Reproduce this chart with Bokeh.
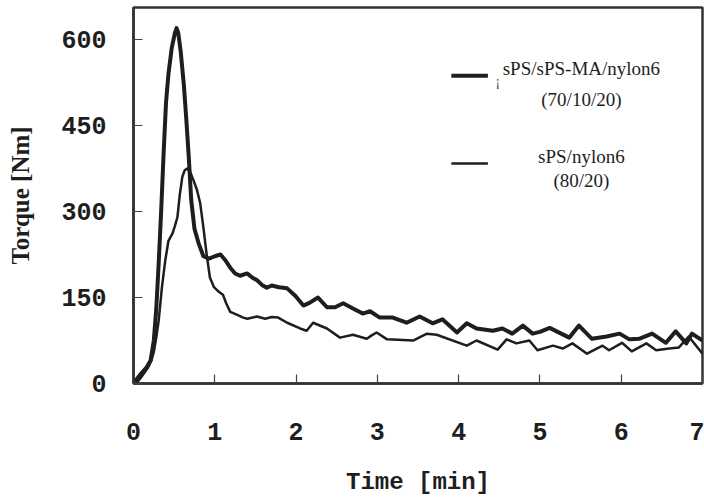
from bokeh.plotting import figure
from bokeh.models import Range1d, FixedTicker, Label
from bokeh.embed import file_html
from bokeh.resources import INLINE

# ---- data ----
time_ma = [0.0, 0.08, 0.16, 0.21, 0.25, 0.28, 0.31, 0.34, 0.37, 0.40, 0.43, 0.47, 0.51, 0.53,
           0.55, 0.58, 0.62, 0.65, 0.68, 0.71, 0.75, 0.80, 0.86, 0.93, 1.00, 1.07, 1.13, 1.19,
           1.25, 1.31, 1.40, 1.46, 1.52, 1.58, 1.64, 1.70, 1.79, 1.89, 1.99, 2.09, 2.17, 2.27,
           2.38, 2.48, 2.58, 2.70, 2.82, 2.91, 3.03, 3.07, 3.19, 3.36, 3.52, 3.68, 3.80, 3.98,
           4.10, 4.22, 4.42, 4.54, 4.66, 4.79, 4.91, 5.00, 5.12, 5.36, 5.48, 5.64, 5.82, 5.98,
           6.10, 6.22, 6.38, 6.55, 6.67, 6.80, 6.87, 7.00]
torque_ma = [0, 15, 28, 40, 75, 130, 210, 300, 400, 490, 540, 585, 612, 620,
             612, 580, 520, 460, 395, 320, 270, 245, 222, 218, 222, 225, 215, 202,
             192, 188, 192, 185, 180, 172, 167, 171, 168, 166, 153, 136, 141, 150,
             133, 133, 140, 131, 122, 126, 115, 115, 115, 106, 117, 105, 112, 89,
             105, 96, 92, 96, 87, 101, 87, 90, 97, 80, 101, 78, 82, 87,
             77, 78, 87, 71, 91, 70, 87, 75]

time_plain = [0.0, 0.05, 0.09, 0.14, 0.18, 0.22, 0.25, 0.28, 0.31, 0.35, 0.39, 0.43, 0.48, 0.51,
              0.54, 0.57, 0.60, 0.63, 0.66, 0.70, 0.74, 0.78, 0.82, 0.86, 0.90, 0.94, 0.99, 1.05,
              1.10, 1.14, 1.19, 1.27, 1.35, 1.40, 1.52, 1.62, 1.70, 1.78, 1.89, 2.05, 2.13, 2.21,
              2.38, 2.54, 2.70, 2.87, 2.93, 2.99, 3.12, 3.44, 3.61, 3.73, 4.10, 4.22, 4.48, 4.59,
              4.71, 4.87, 4.97, 5.16, 5.28, 5.40, 5.58, 5.77, 5.85, 6.01, 6.13, 6.31, 6.43, 6.59,
              6.71, 6.83, 7.00]
torque_plain = [0, 3, 10, 20, 28, 40, 55, 80, 110, 168, 214, 249, 262, 275,
                290, 330, 360, 372, 375, 368, 354, 338, 315, 272, 225, 185, 168, 160,
                155, 140, 125, 120, 115, 113, 117, 113, 116, 115, 106, 96, 92, 106,
                96, 80, 85, 78, 84, 89, 77, 75, 87, 85, 66, 75, 59, 77,
                70, 75, 58, 66, 61, 70, 52, 66, 58, 71, 56, 70, 58, 61,
                63, 82, 52]

x_ticks = [0, 1, 2, 3, 4, 5, 6, 7]
y_ticks = [0, 150, 300, 450, 600]

label_ma = ["sPS/sPS-MA/nylon6", "(70/10/20)"]
label_plain = ["sPS/nylon6", "(80/20)"]

INK = "#1e1e1e"

p = figure(width=704, height=500, x_range=Range1d(0, 7), y_range=Range1d(0, 656),
           output_backend="svg", toolbar_location=None,
           min_border_left=133, min_border_right=2, min_border_top=7, min_border_bottom=117)
p.background_fill_color = "white"
p.border_fill_color = "white"
p.outline_line_color = "#333333"
p.outline_line_width = 2.5
p.xgrid.visible = False
p.ygrid.visible = False

for ax in (p.xaxis[0], p.yaxis[0]):
    ax.axis_line_color = "#333333"
    ax.axis_line_width = 2.5
    ax.major_tick_in = 9
    ax.major_tick_out = 0
    ax.minor_tick_line_color = None
    ax.major_tick_line_color = "#444444"
    ax.major_tick_line_width = 1.2
    ax.major_label_text_font = "Liberation Mono"
    ax.major_label_text_font_style = "bold"
    ax.major_label_text_font_size = "25px"
    ax.major_label_text_color = INK

p.xaxis.ticker = FixedTicker(ticks=x_ticks)
p.yaxis.ticker = FixedTicker(ticks=y_ticks)
p.xaxis.major_label_standoff = 39
p.yaxis.major_label_standoff = 27

p.xaxis.axis_label = "Time [min]"
p.xaxis.axis_label_text_font = "Liberation Mono"
p.xaxis.axis_label_text_font_style = "bold"
p.xaxis.axis_label_text_font_size = "24px"
p.xaxis.axis_label_text_color = INK
p.xaxis.axis_label_standoff = 26

p.yaxis.axis_label = "Torque [Nm]"
p.yaxis.axis_label_text_font = "Liberation Serif"
p.yaxis.axis_label_text_font_style = "bold"
p.yaxis.axis_label_text_font_size = "25px"
p.yaxis.axis_label_text_color = INK
p.yaxis.axis_label_standoff = 24

p.line(time_ma, torque_ma, line_color=INK, line_width=4, line_join="round")
p.line(time_plain, torque_plain, line_color=INK, line_width=2.5, line_join="round")

# legend keys
p.line([3.91, 4.36], [537, 537], line_color=INK, line_width=4)
p.line([3.91, 4.36], [384, 384], line_color=INK, line_width=2.5)

for txt, yy in ((label_ma[0], 549), (label_ma[1], 495), (label_plain[0], 396), (label_plain[1], 354)):
    p.add_layout(Label(x=5.51, y=yy, text=txt, text_align="center", text_baseline="middle",
                       text_font="Liberation Serif", text_font_size="19px", text_color=INK))
p.add_layout(Label(x=4.48, y=528, text="¡", text_align="center", text_baseline="middle",
                   text_font="Liberation Serif", text_font_size="15px", text_color="#555555"))

open("out.html", "w").write(file_html(p, INLINE))
